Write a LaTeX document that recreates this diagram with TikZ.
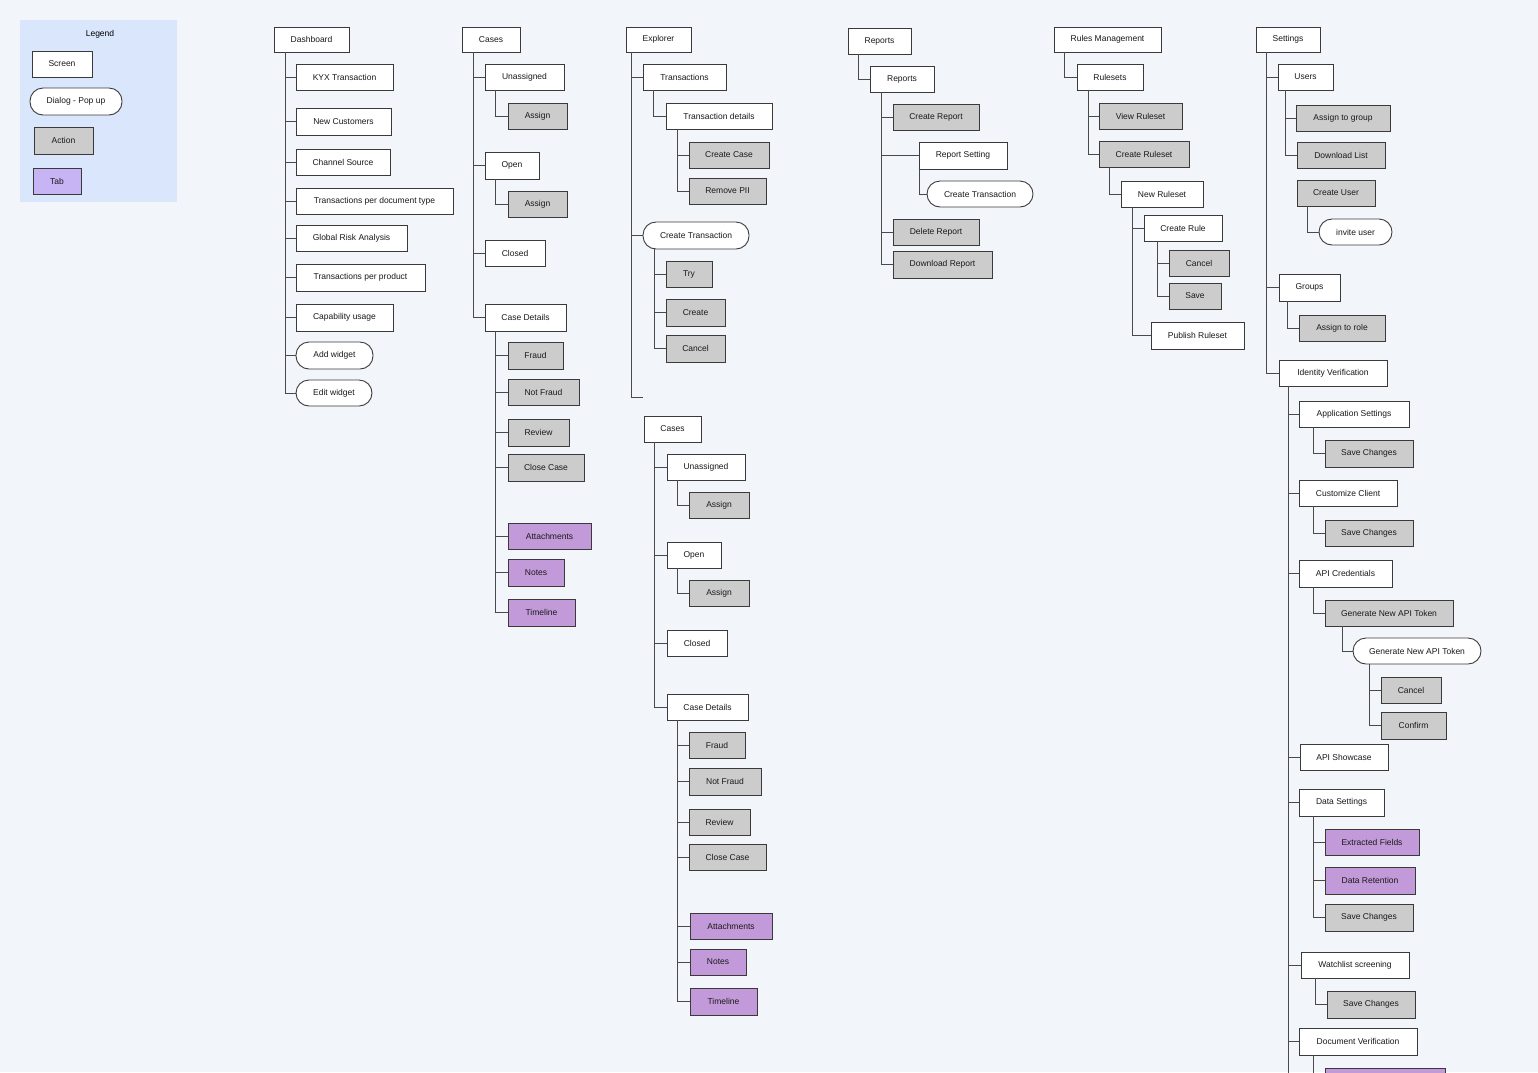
\documentclass[tikz,border=0pt]{standalone}
\usepackage{fontspec}
\setmainfont{Liberation Sans}
\definecolor{bg}{HTML}{F2F5FA}
\definecolor{legbg}{HTML}{DAE6FB}
\definecolor{actfill}{HTML}{CCCCCC}
\definecolor{tabfill}{HTML}{C39AD9}
\definecolor{legtab}{HTML}{C6B4F4}
\definecolor{edgec}{HTML}{3A3A3A}
\definecolor{linec}{HTML}{4A4A4A}
\tikzset{
 nodebase/.style={draw=edgec, line width=0.9pt, inner sep=0pt, font=\fontsize{8.5}{10}\selectfont, text=black!90},
 scr/.style={nodebase, fill=white},
 dlg/.style={nodebase, fill=white, rounded corners=13pt},
 act/.style={nodebase, fill=actfill},
 tabbox/.style={nodebase, fill=tabfill},
 legtabbox/.style={nodebase, fill=legtab},
 link/.style={draw=linec, line width=1pt},
}
\newcommand\mybox[7]{\node[#1, minimum width={(#5-#3)*1pt}, minimum height={(#6-#4)*1pt}] (#2) at ({(#3+#5)/2},{(#4+#6)/2}) {#7};}
\newcommand\lk[3]{\draw[link] ([xshift=#2pt]#1.south west) |- (#3.west);}
\begin{document}
\begin{tikzpicture}[x=1pt,y=-1pt]
\clip (0,0) rectangle (1538,1072);
\fill[bg] (0,0) rectangle (1538,1072);
% Legend
\node[fill=legbg, minimum width=157pt, minimum height=182pt, inner sep=0pt] (legend) at (98.5,111) {};
\node[font=\fontsize{8.5}{10}\selectfont, inner sep=0pt] (legtitle) at (100,34) {Legend};
\mybox{scr}{lscreen}{32}{51}{92}{77}{Screen}
\mybox{dlg}{ldialog}{30}{88}{122}{115}{Dialog - Pop up}
\mybox{act}{laction}{34}{127}{93}{154}{Action}
\mybox{legtabbox}{ltab}{33}{168}{81}{194}{Tab}
% Dashboard
\mybox{scr}{dash}{274}{27}{349}{52}{Dashboard}
\mybox{scr}{kyx}{296}{64}{393}{90}{KYX Transaction}
\mybox{scr}{newcust}{296}{108}{391}{135}{New Customers}
\mybox{scr}{chan}{296}{149}{390}{175}{Channel Source}
\mybox{scr}{tpdt}{296}{188}{453}{214}{Transactions per document type}
\mybox{scr}{gra}{296}{225}{407}{251}{Global Risk Analysis}
\mybox{scr}{tpp}{296}{264}{425}{291}{Transactions per product}
\mybox{scr}{capu}{296}{304}{393}{331}{Capability usage}
\mybox{dlg}{addw}{296}{342}{373}{369}{Add widget}
\mybox{dlg}{editw}{296}{380}{372}{406}{Edit widget}
\foreach \c in {kyx,newcust,chan,tpdt,gra,tpp,capu,addw,editw}{\lk{dash}{12}{\c}}
% Cases 1
\mybox{scr}{cases}{462}{27}{520}{52}{Cases}
\mybox{scr}{cuna}{485}{64}{564}{90}{Unassigned}
\mybox{act}{cunaas}{508}{103}{567}{129}{Assign}
\mybox{scr}{copen}{485}{152}{539}{179}{Open}
\mybox{act}{copenas}{508}{191}{567}{217}{Assign}
\mybox{scr}{cclosed}{485}{240}{545}{266}{Closed}
\mybox{scr}{cdet}{485}{304}{566}{331}{Case Details}
\mybox{act}{cfraud}{508}{342}{563}{369}{Fraud}
\mybox{act}{cnotf}{508}{379}{579}{405}{Not Fraud}
\mybox{act}{crev}{508}{419}{569}{446}{Review}
\mybox{act}{cclose}{508}{454}{584}{481}{Close Case}
\mybox{tabbox}{catt}{508}{523}{591}{549}{Attachments}
\mybox{tabbox}{cnotes}{508}{559}{564}{586}{Notes}
\mybox{tabbox}{ctime}{508}{599}{575}{626}{Timeline}
\foreach \c in {cuna,copen,cclosed,cdet}{\lk{cases}{12}{\c}}
\lk{cuna}{11}{cunaas}
\lk{copen}{11}{copenas}
\foreach \c in {cfraud,cnotf,crev,cclose,catt,cnotes,ctime}{\lk{cdet}{11}{\c}}
% Explorer
\mybox{scr}{expl}{626}{27}{691}{52}{Explorer}
\mybox{scr}{etrans}{643}{64}{726}{90}{Transactions}
\mybox{scr}{etdet}{666}{103}{772}{129}{Transaction details}
\mybox{act}{ecc}{689}{142}{769}{168}{Create Case}
\mybox{act}{epii}{689}{178}{766}{204}{Remove PII}
\mybox{dlg}{ectr}{643}{222}{749}{249}{Create Transaction}
\mybox{act}{etry}{666}{261}{712}{287}{Try}
\mybox{act}{ecreate}{666}{299}{725}{326}{Create}
\mybox{act}{ecancel}{666}{335}{725}{362}{Cancel}
\coordinate (exend) at (643,397);
\lk{expl}{6}{etrans}
\lk{expl}{6}{ectr}
\draw[link] ([xshift=6pt]expl.south west) |- (exend);
\lk{etrans}{11}{etdet}
\lk{etdet}{12}{ecc}
\lk{etdet}{12}{epii}
\foreach \c in {etry,ecreate,ecancel}{\lk{ectr}{12}{\c}}
% Cases 2
\mybox{scr}{casesb}{644}{416}{701}{442}{Cases}
\mybox{scr}{duna}{667}{454}{745}{480}{Unassigned}
\mybox{act}{dunaas}{689}{492}{749}{518}{Assign}
\mybox{scr}{dopen}{667}{542}{721}{568}{Open}
\mybox{act}{dopenas}{689}{580}{749}{606}{Assign}
\mybox{scr}{dclosed}{667}{630}{727}{656}{Closed}
\mybox{scr}{ddet}{667}{694}{748}{720}{Case Details}
\mybox{act}{dfraud}{689}{732}{745}{758}{Fraud}
\mybox{act}{dnotf}{689}{768}{761}{795}{Not Fraud}
\mybox{act}{drev}{689}{809}{750}{835}{Review}
\mybox{act}{dclose}{689}{844}{766}{870}{Close Case}
\mybox{tabbox}{datt}{690}{913}{772}{939}{Attachments}
\mybox{tabbox}{dnotes}{690}{949}{746}{975}{Notes}
\mybox{tabbox}{dtime}{690}{988}{757}{1015}{Timeline}
\foreach \c in {duna,dopen,dclosed,ddet}{\lk{casesb}{11}{\c}}
\lk{duna}{11}{dunaas}
\lk{dopen}{11}{dopenas}
\foreach \c in {dfraud,dnotf,drev,dclose,datt,dnotes,dtime}{\lk{ddet}{11}{\c}}
% Reports
\mybox{scr}{rep}{848}{28}{911}{54}{Reports}
\mybox{scr}{repb}{870}{66}{934}{92}{Reports}
\mybox{act}{rcreate}{893}{104}{979}{130}{Create Report}
\mybox{scr}{rset}{919}{142}{1007}{169}{Report Setting}
\mybox{dlg}{rctr}{927}{181}{1033}{207}{Create Transaction}
\mybox{act}{rdel}{893}{219}{979}{245}{Delete Report}
\mybox{act}{rdown}{893}{251}{992}{278}{Download Report}
\lk{rep}{11}{repb}
\foreach \c in {rcreate,rset,rdel,rdown}{\lk{repb}{12}{\c}}
\lk{rset}{1}{rctr}
% Rules Management
\mybox{scr}{rules}{1054}{27}{1161}{52}{Rules Management}
\mybox{scr}{rsets}{1077}{64}{1143}{90}{Rulesets}
\mybox{act}{rview}{1099}{103}{1182}{129}{View Ruleset}
\mybox{act}{rcrs}{1099}{141}{1189}{167}{Create Ruleset}
\mybox{scr}{rnew}{1121}{181}{1203}{207}{New Ruleset}
\mybox{scr}{rcrule}{1144}{215}{1222}{241}{Create Rule}
\mybox{act}{rcancel}{1169}{250}{1229}{276}{Cancel}
\mybox{act}{rsave}{1169}{283}{1221}{309}{Save}
\mybox{scr}{rpub}{1151}{322}{1244}{349}{Publish Ruleset}
\lk{rules}{11}{rsets}
\lk{rsets}{12}{rview}
\lk{rsets}{12}{rcrs}
\lk{rcrs}{11}{rnew}
\lk{rnew}{12}{rcrule}
\lk{rnew}{12}{rpub}
\lk{rcrule}{14}{rcancel}
\lk{rcrule}{14}{rsave}
% Settings
\mybox{scr}{sett}{1256}{27}{1320}{52}{Settings}
\mybox{scr}{users}{1278}{64}{1333}{90}{Users}
\mybox{act}{uassign}{1296}{105}{1390}{131}{Assign to group}
\mybox{act}{udown}{1297}{142}{1385}{168}{Download List}
\mybox{act}{ucreate}{1297}{180}{1375}{206}{Create User}
\mybox{dlg}{uinvite}{1319}{219}{1392}{245}{invite user}
\mybox{scr}{groups}{1279}{274}{1340}{301}{Groups}
\mybox{act}{grole}{1299}{315}{1385}{341}{Assign to role}
\mybox{scr}{idv}{1279}{360}{1387}{386}{Identity Verification}
\mybox{scr}{appset}{1299}{401}{1409}{427}{Application Settings}
\mybox{act}{appsave}{1325}{440}{1413}{467}{Save Changes}
\mybox{scr}{cust}{1299}{480}{1397}{506}{Customize Client}
\mybox{act}{custsave}{1325}{520}{1413}{546}{Save Changes}
\mybox{scr}{apic}{1299}{560}{1392}{587}{API Credentials}
\mybox{act}{apigen}{1325}{600}{1453}{626}{Generate New API Token}
\mybox{dlg}{apidlg}{1353}{638}{1481}{664}{Generate New API Token}
\mybox{act}{apicancel}{1381}{677}{1441}{703}{Cancel}
\mybox{act}{apiconf}{1381}{712}{1446}{739}{Confirm}
\mybox{scr}{apishow}{1300}{744}{1388}{770}{API Showcase}
\mybox{scr}{dataset}{1299}{789}{1384}{816}{Data Settings}
\mybox{tabbox}{dsext}{1325}{829}{1419}{855}{Extracted Fields}
\mybox{tabbox}{dsret}{1325}{867}{1415}{894}{Data Retention}
\mybox{act}{dssave}{1325}{904}{1413}{931}{Save Changes}
\mybox{scr}{watch}{1301}{952}{1409}{978}{Watchlist screening}
\mybox{act}{watchsave}{1327}{991}{1415}{1018}{Save Changes}
\mybox{scr}{docv}{1299}{1028}{1417}{1055}{Document Verification}
\mybox{tabbox}{docvtab}{1325}{1068}{1445}{1094}{}
\coordinate (idend) at (1289,1090);
\lk{sett}{11}{users}
\lk{sett}{11}{groups}
\lk{sett}{11}{idv}
\lk{users}{8}{uassign}
\lk{users}{8}{udown}
\lk{ucreate}{11}{uinvite}
\lk{groups}{9}{grole}
\foreach \c in {appset,cust,apic,apishow,dataset,watch,docv}{\lk{idv}{10}{\c}}
\draw[link] ([xshift=10pt]idv.south west) |- (idend);
\lk{appset}{15}{appsave}
\lk{cust}{15}{custsave}
\lk{apic}{15}{apigen}
\lk{apigen}{18}{apidlg}
\lk{apidlg}{17}{apicancel}
\lk{apidlg}{17}{apiconf}
\foreach \c in {dsext,dsret,dssave}{\lk{dataset}{15}{\c}}
\lk{watch}{15}{watchsave}
\lk{docv}{15}{docvtab}
\end{tikzpicture}
\end{document}
